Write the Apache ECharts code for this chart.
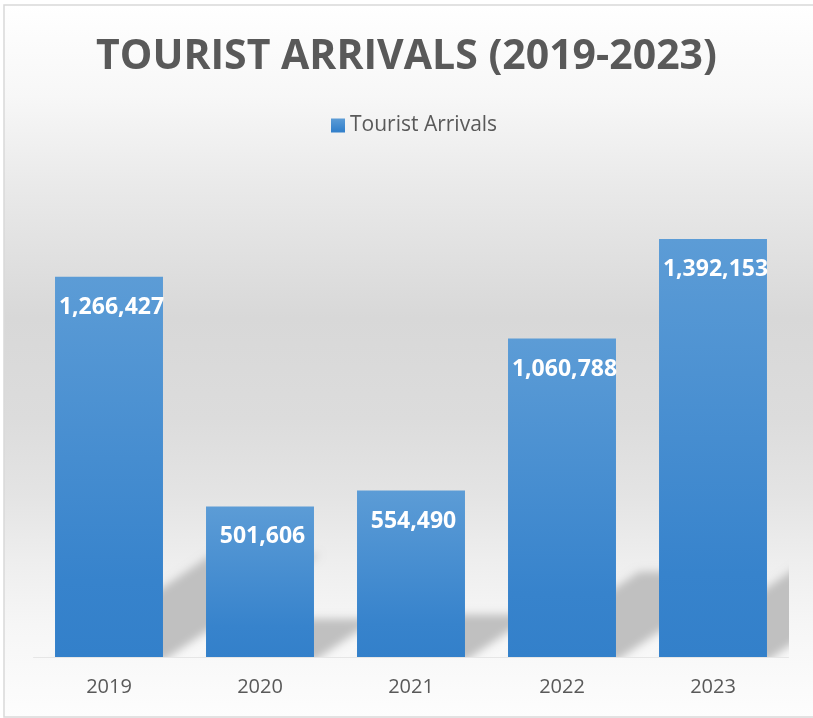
<!DOCTYPE html>
<html>
<head>
<meta charset="utf-8">
<title>Tourist Arrivals (2019-2023)</title>
<script src="https://cdn.jsdelivr.net/npm/echarts@6/dist/echarts.min.js"></script>
<style>
  html, body { margin: 0; padding: 0; background: #ffffff; }
  #chart { width: 813px; height: 718px; }
</style>
</head>
<body>
<div id="chart"></div>
<script>
// Yearly visitor counts
const years = ['2019', '2020', '2021', '2022', '2023'];
const arrivals = [1266427, 501606, 554490, 1060788, 1392153];
const seriesName = 'Tourist Arrivals';

const FONT = "'Open Sans', 'Noto Sans', sans-serif";
const TEXT_COLOR = '#595959';
const BAR_RATIO = 0.715;
const SHIFT = 2000; // the shadow shape is drawn off-canvas so only its soft blur shows

const barFill = new echarts.graphic.LinearGradient(0, 0, 0, 1, [
  { offset: 0, color: '#5c9cd6' },
  { offset: 0.8, color: '#3783cc' },
  { offset: 1, color: '#3380ca' }
]);

// Perspective floor shadow cast up and to the right behind each bar
function renderShadow(params, api) {
  const base = api.coord([api.value(0), 0]);
  const top = api.coord([api.value(0), api.value(1)]);
  const bw = api.size([1, 0])[0] * BAR_RATIO;
  const h = base[1] - top[1];
  const rise = h * 0.28;
  const run = rise / 0.68;
  const x0 = base[0] - bw / 2 - SHIFT;
  const x1 = base[0] + bw / 2 - SHIFT;
  const y0 = base[1] + 4;
  return {
    type: 'polygon',
    silent: true,
    shape: { points: [[x0, y0], [x1, y0], [x1 + run, y0 - rise], [x0 + run, y0 - rise]] },
    style: {
      fill: '#c0c0c0',
      shadowBlur: 9,
      shadowColor: '#c0c0c0',
      shadowOffsetX: SHIFT,
      shadowOffsetY: 0
    }
  };
}

const chart = echarts.init(document.getElementById('chart'), null, { renderer: 'canvas' });

chart.setOption({
  backgroundColor: '#ffffff',
  animation: false,
  graphic: [{
    type: 'rect',
    z: -10,
    silent: true,
    shape: { x: 4, y: 5, width: 812, height: 712 },
    style: {
      fill: new echarts.graphic.LinearGradient(0, 0, 0, 1, [
        { offset: 0, color: '#ffffff' },
        { offset: 0.13, color: '#f7f7f7' },
        { offset: 0.25, color: '#eaeaea' },
        { offset: 0.44, color: '#d8d8d8' },
        { offset: 0.58, color: '#dcdcdc' },
        { offset: 0.69, color: '#e4e4e4' },
        { offset: 0.78, color: '#eeeeee' },
        { offset: 0.87, color: '#f6f6f6' },
        { offset: 1, color: '#fdfdfd' }
      ]),
      stroke: '#d9d9d9',
      lineWidth: 1.5
    }
  }],
  title: {
    text: 'TOURIST ARRIVALS (2019-2023)',
    left: 'center',
    top: 32,
    textStyle: { fontFamily: FONT, fontSize: 41, fontWeight: 'bold', color: TEXT_COLOR }
  },
  legend: {
    data: [seriesName],
    left: 326,
    top: 110,
    icon: 'rect',
    itemWidth: 14,
    itemHeight: 14,
    itemGap: 5,
    textStyle: { fontFamily: FONT, fontSize: 21, color: TEXT_COLOR }
  },
  grid: { left: 33.5, right: 24.5, top: 176.6, bottom: 61, containLabel: false },
  xAxis: {
    type: 'category',
    data: years,
    axisLine: { show: true, lineStyle: { color: '#e6e6e6', width: 1 } },
    axisTick: { show: false },
    axisLabel: { fontFamily: FONT, fontSize: 20, color: TEXT_COLOR, margin: 20 }
  },
  yAxis: {
    type: 'value',
    min: 0,
    max: 1600000,
    show: false,
    splitLine: { show: false }
  },
  series: [
    {
      type: 'custom',
      name: 'shadow',
      z: 1,
      clip: true,
      silent: true,
      renderItem: renderShadow,
      data: arrivals.map((v, i) => [i, v])
    },
    {
      type: 'bar',
      name: seriesName,
      z: 2,
      barWidth: (BAR_RATIO * 100) + '%',
      data: arrivals,
      itemStyle: { color: barFill },
      label: {
        show: true,
        position: 'insideTop',
        distance: 19,
        offset: [2.5, 0],
        formatter: p => p.value.toLocaleString('en-US'),
        fontFamily: FONT,
        fontSize: 23,
        fontWeight: 'bold',
        color: '#ffffff'
      }
    }
  ]
});
</script>
</body>
</html>
